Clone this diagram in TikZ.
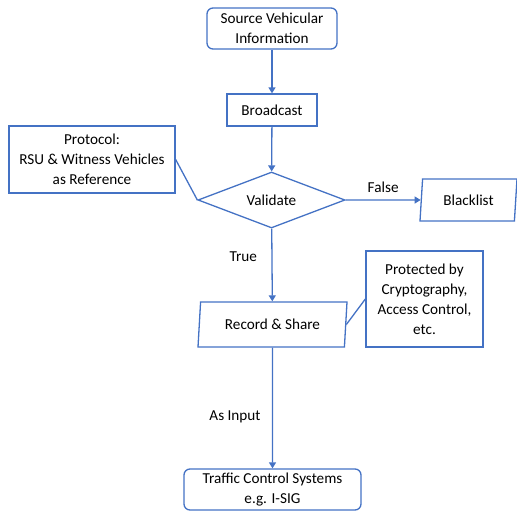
\documentclass[tikz,border=0pt]{standalone}
\usepackage{fontspec}
\setmainfont{Carlito}
\usepackage{tikz}
\usetikzlibrary{arrows.meta, shapes.geometric}
\definecolor{flowblue}{HTML}{4472C4}

\begin{document}
\begin{tikzpicture}[x=1pt, y=-1pt, line width=1.3pt,
  font=\fontsize{15.2}{20}\selectfont,
  box/.style={draw=flowblue, align=center, inner sep=2pt},
  term/.style={box, rounded corners=6pt},
  io/.style={box, trapezium, trapezium left angle=80, trapezium right angle=100, trapezium stretches body=true},
  dec/.style={box, diamond, aspect=2.625},
  flow/.style={draw=flowblue, -{Triangle[length=6pt, width=7pt]}}]
\useasboundingbox (0,0) rectangle (517,512);
\node[term, minimum width=130, minimum height=41] (1) at (272,28.5) {Source Vehicular\\Information};
\node[box, minimum width=90, minimum height=32] (2) at (272,110) {Broadcast};
\node[dec, minimum width=147, minimum height=56] (3) at (271.5,200) {Validate};
\node[box, minimum width=166, minimum height=67] (4) at (92,159.5) {Protocol:\\RSU \& Witness Vehicles\\as Reference};
\node[io, minimum width=97, minimum height=42] (5) at (468.5,200) {Blacklist};
\node[io, minimum width=149, minimum height=45] (6) at (272.5,324.5) {Record \& Share};
\node[box, minimum width=117, minimum height=96] (7) at (424.5,299) {Protected by\\Cryptography,\\Access Control,\\etc.};
\node[term, minimum width=177, minimum height=41] (8) at (272.5,489.5) {Traffic Control Systems\\e.g. I-SIG};
\draw[flow] (1)--(2);
\draw[flow] (2)--(3);
\draw[flow] (3)-- node[above=3pt] {False} (5);
\draw[flow] (3)-- node[pos=0.38, left=11pt] {True} (6);
\draw[flow] (6)-- node[pos=0.57, left=8pt] {As Input} (8);
\draw[draw=flowblue] (4.east)--(3.west);
\draw[draw=flowblue] (6.east)--(7.west);
\end{tikzpicture}
\end{document}
